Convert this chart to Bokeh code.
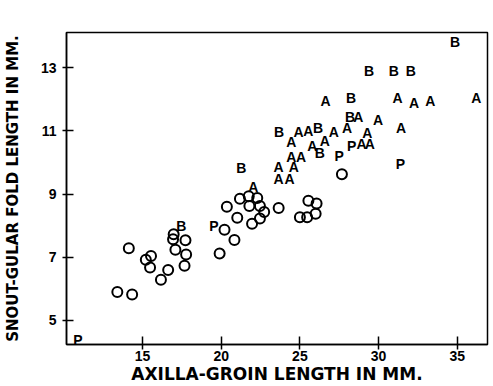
from bokeh.plotting import figure
from bokeh.models import FixedTicker
from bokeh.core.properties import value
from bokeh.embed import file_html
from bokeh.resources import INLINE

# Circles (O)
o_x = [13.4, 14.34, 14.13, 15.21, 15.54, 15.48, 16.17, 16.63, 16.98, 16.94, 17.09, 17.73,
       17.77, 17.67, 19.9, 20.21, 20.84, 20.36, 21.02, 21.19, 21.75, 22.29, 21.79, 22.46,
       22.73, 22.46, 21.96, 23.65, 25.0, 25.46, 26.0, 25.54, 26.06, 27.67]
o_y = [5.9, 5.82, 7.29, 6.92, 7.04, 6.68, 6.29, 6.60, 7.73, 7.57, 7.24, 7.54,
       7.09, 6.73, 7.12, 7.87, 7.55, 8.60, 8.25, 8.85, 8.93, 8.88, 8.62, 8.62,
       8.43, 8.23, 8.06, 8.56, 8.27, 8.27, 8.38, 8.79, 8.70, 9.63]

# Letter A
a_x = [22.04, 23.65, 23.65, 24.34, 24.61, 24.45, 25.07, 24.45, 24.92, 25.54, 25.79, 26.58,
       27.15, 26.63, 28.0, 28.71, 29.29, 28.92, 29.44, 29.96, 31.21, 31.42, 32.25, 33.29, 36.21]
a_y = [9.29, 9.92, 9.55, 9.55, 9.92, 10.23, 10.23, 10.7, 11.03, 11.06, 10.59, 10.75,
       11.03, 12.02, 11.17, 11.5, 11.01, 10.65, 10.65, 11.4, 12.12, 11.17, 11.95, 12.0, 12.1]

# Letter B
b_x = [17.46, 21.27, 23.67, 26.15, 26.27, 28.25, 28.19, 29.4, 30.96, 32.04, 34.86]
b_y = [8.06, 9.88, 11.03, 11.17, 10.38, 12.10, 11.5, 12.96, 12.96, 12.96, 13.88]

# Letter P
p_x = [10.9, 19.54, 27.5, 28.29, 31.38]
p_y = [4.45, 8.06, 10.26, 10.59, 10.02]

x_ticks = [15, 20, 25, 30, 35]
y_ticks = [5, 7, 9, 11, 13]
x_label = "AXILLA-GROIN LENGTH IN MM."
y_label = "SNOUT-GULAR FOLD LENGTH IN MM."

FONT = "Liberation Sans"
LFONT = "DejaVu Sans"

p = figure(width=493, height=386, x_range=(10.17, 36.92), y_range=(4.24, 14.115),
           output_backend="svg", toolbar_location=None,
           min_border_left=59, min_border_right=6, min_border_top=32, min_border_bottom=38)

p.grid.visible = False
p.outline_line_color = "black"
p.outline_line_width = 1.5
p.background_fill_color = "white"
p.border_fill_color = "white"

for ax in (p.xaxis[0], p.yaxis[0]):
    ax.axis_line_color = "black"
    ax.axis_line_width = 1.5
    ax.major_tick_line_color = "black"
    ax.major_tick_line_width = 1.5
    ax.minor_tick_line_color = None
    ax.major_label_text_font = FONT
    ax.major_label_text_font_style = "bold"
    ax.major_label_text_font_size = "14px"
    ax.major_label_text_line_height = 1.0
    ax.major_label_text_color = "black"
    ax.axis_label_text_font = LFONT
    ax.axis_label_text_font_style = "bold"
    ax.axis_label_text_line_height = 1.0
    ax.axis_label_text_color = "black"

p.xaxis.ticker = FixedTicker(ticks=x_ticks)
p.yaxis.ticker = FixedTicker(ticks=y_ticks)
p.xaxis.major_tick_in = 8
p.xaxis.major_tick_out = 5
p.xaxis.major_label_standoff = 1
p.xaxis.axis_label = x_label
p.xaxis.axis_label_text_font_size = "17px"
p.xaxis.axis_label_standoff = 0
p.yaxis.major_tick_in = 7
p.yaxis.major_tick_out = 4
p.yaxis.major_label_standoff = 6
p.yaxis.axis_label = y_label
p.yaxis.axis_label_text_font_size = "15px"
p.yaxis.axis_label_standoff = 16

p.circle(o_x, o_y, radius=5, radius_units="screen", fill_color=None,
         line_color="black", line_width=2)

for xs, ys, ch in ((a_x, a_y, "A"), (b_x, b_y, "B"), (p_x, p_y, "P")):
    p.text(xs, ys, text=[ch] * len(xs), text_align="center", text_baseline="alphabetic",
           y_offset=2, text_font=value(FONT), text_font_style="bold",
           text_font_size="14px", text_color="black")

open("out.html", "w").write(file_html(p, INLINE))
